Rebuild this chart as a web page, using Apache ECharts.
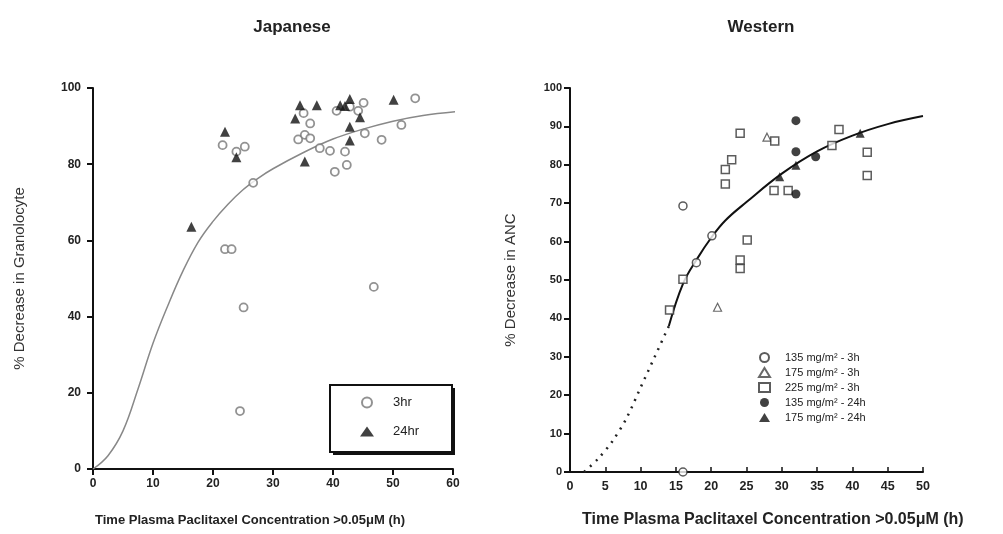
<!DOCTYPE html>
<html><head><meta charset="utf-8">
<script src="https://cdn.jsdelivr.net/npm/echarts@6/dist/echarts.min.js"></script>
<style>html,body{margin:0;padding:0;background:#fff}#c{width:1003px;height:534px}</style>
</head><body><div id="c"></div>
<script>
// ---- Japanese panel data ----
const jpXTicks = [0, 10, 20, 30, 40, 50, 60];
const jpYTicks = [0, 20, 40, 60, 80, 100];
const jp3hr = [[21.6,85],[23.9,83.3],[25.3,84.6],[22,57.7],[23.1,57.7],[25.1,42.4],[24.5,15.2],[26.7,75.1],
  [35.1,93.4],[36.2,90.7],[34.2,86.5],[35.3,87.7],[36.2,86.8],[37.8,84.2],[39.5,83.5],[42,83.3],
  [40.6,94],[42.8,95.1],[45.1,96.1],[44.2,94],[45.3,88.1],[48.1,86.4],[51.4,90.3],[53.7,97.3],
  [42.3,79.8],[40.3,78],[46.8,47.8]];
const jp24hr = [[16.4,63.6],[22,88.5],[23.9,81.8],[34.5,95.5],[37.3,95.5],[33.7,92],[41.2,95.5],
  [42.8,97.1],[42,95.3],[44.5,92.3],[42.8,89.8],[42.8,86.2],[35.3,80.7],[50.1,96.9]];
const jpCurve = [[0,0],[2.5,3.5],[5,10],[7.5,21],[10,33],[12.5,43],[15,52],[17.5,59.5],[20,65],
  [22.5,69.5],[25,73.3],[27.5,76.3],[30,78.8],[35,83],[40,86.6],[45,89.2],[50,91.3],[55,92.8],[60.5,93.8]];

// ---- Western panel data ----
const wXTicks = [0,5,10,15,20,25,30,35,40,45,50];
const wYTicks = [0,10,20,30,40,50,60,70,80,90,100];
const w135_3h = [[16,69.3],[20.1,61.5],[17.9,54.5],[16,0]];
const w175_3h = [[27.9,87.2],[20.9,42.9]];
const w225_3h = [[24.1,88.2],[29,86.2],[22.9,81.3],[22,78.8],[22,75],[28.9,73.3],[30.9,73.3],[37.1,85],
  [38.1,89.2],[42.1,83.3],[42.1,77.2],[16,50.2],[14.1,42.2],[25.1,60.4],[24.1,55.2],[24.1,53]];
const w135_24h = [[32,91.5],[32,83.4],[32,72.4],[34.8,82.1]];
const w175_24h = [[29.7,76.9],[32,79.9],[41.1,88.2]];
const wCurveDotted = [[2,0],[4,3.5],[6,8],[8,14],[10,22],[12,30],[14,38]];
const wCurveSolid = [[14,38],[16,49],[18,55.5],[20,61],[22,65.5],[25,70.3],[30,77.7],[35,83.5],[40,87.6],[45,90.6],[50,92.7]];

const jpLegend = ['3hr', '24hr'];
const wLegend = ['135 mg/m\u00b2 - 3h', '175 mg/m\u00b2 - 3h', '225 mg/m\u00b2 - 3h', '135 mg/m\u00b2 - 24h', '175 mg/m\u00b2 - 24h'];
const xTitle = 'Time Plasma Paclitaxel Concentration >0.05\u03bcM (h)';
const FONT = '"Liberation Sans", Arial, sans-serif';

const chart = echarts.init(document.getElementById('c'));
function axisCommon(min, max, interval) {
  return {
    min, max, interval,
    axisLine: {show: true, onZero: false, lineStyle: {color: '#111', width: 2}},
    axisTick: {show: true, inside: false, length: 6, lineStyle: {color: '#111', width: 2}},
    splitLine: {show: false},
    axisLabel: {color: '#222', fontWeight: 'bold', fontFamily: FONT, fontSize: 12}
  };
}
const option = {
  animation: false,
  backgroundColor: '#fff',
  title: [
    {text: 'Japanese', left: 287, top: 14, textAlign: 'center',
     textStyle: {fontFamily: FONT, fontSize: 17, fontWeight: 'bold', color: '#222'}},
    {text: 'Western', left: 756, top: 14, textAlign: 'center',
     textStyle: {fontFamily: FONT, fontSize: 17, fontWeight: 'bold', color: '#222'}}
  ],
  grid: [
    {left: 93, top: 88, width: 360, height: 381},
    {left: 570, top: 88, width: 353, height: 384}
  ],
  xAxis: [
    Object.assign(axisCommon(0, 60, 10), {gridIndex: 0, type: 'value',
      axisLabel: {color: '#222', fontWeight: 'bold', fontFamily: FONT, fontSize: 12, margin: 9}}),
    Object.assign(axisCommon(0, 50, 5), {gridIndex: 1, type: 'value',
      axisTick: {show: true, inside: true, length: 5, lineStyle: {color: '#111', width: 1.5}},
      axisLabel: {color: '#222', fontWeight: 'bold', fontFamily: FONT, fontSize: 12.5, margin: 8}})
  ],
  yAxis: [
    Object.assign(axisCommon(0, 100, 20), {gridIndex: 0, type: 'value',
      name: '% Decrease in Granolocyte', nameLocation: 'middle', nameGap: 66,
      nameTextStyle: {fontFamily: FONT, fontSize: 15, color: '#333'},
      axisLabel: {color: '#222', fontWeight: 'bold', fontFamily: FONT, fontSize: 12, margin: 12}}),
    Object.assign(axisCommon(0, 100, 10), {gridIndex: 1, type: 'value',
      name: '% Decrease in ANC', nameLocation: 'middle', nameGap: 52,
      nameTextStyle: {fontFamily: FONT, fontSize: 15, color: '#333'},
      axisLabel: {color: '#222', fontWeight: 'bold', fontFamily: FONT, fontSize: 11, margin: 8}})
  ],
  graphic: [
    {type: 'text', left: 95, top: 514, style: {text: xTitle, font: 'bold 13px "Liberation Sans", Arial, sans-serif', fill: '#222'}},
    {type: 'text', left: 582, top: 512, style: {text: xTitle, font: 'bold 16px "Liberation Sans", Arial, sans-serif', fill: '#222'}},
    // legend frame with drop shadow (Japanese panel)
    {type: 'rect', z: 0, shape: {x: 333, y: 388, width: 122, height: 67}, style: {fill: '#111'}},
    {type: 'rect', z: 1, shape: {x: 330, y: 385, width: 122, height: 67}, style: {fill: '#fff', stroke: '#111', lineWidth: 2}}
  ],
  legend: [
    {
      data: jpLegend, orient: 'vertical', left: 360, top: 396, padding: 0, itemGap: 16,
      itemWidth: 14, itemHeight: 10, z: 5,
      textStyle: {fontFamily: FONT, fontSize: 13, color: '#222', padding: [0, 0, 0, 14]}
    },
    {
      data: wLegend, orient: 'vertical', left: 758, top: 352, padding: 0, itemGap: 4, itemWidth: 11, itemHeight: 9,
      textStyle: {fontFamily: FONT, fontSize: 11, color: '#222', padding: [0, 0, 0, 10]}
    }
  ],
  series: [
    {type: 'line', name: 'jpfit', xAxisIndex: 0, yAxisIndex: 0, data: jpCurve, smooth: 0.4, symbol: 'none',
     lineStyle: {color: '#888', width: 1.5}, silent: true, z: 1},
    {type: 'scatter', name: '3hr', xAxisIndex: 0, yAxisIndex: 0, data: jp3hr, symbol: 'circle', symbolSize: 8,
     itemStyle: {color: '#fff', borderColor: '#777', borderWidth: 1.8}, z: 3},
    {type: 'scatter', name: '24hr', xAxisIndex: 0, yAxisIndex: 0, data: jp24hr, symbol: 'triangle', symbolSize: 10,
     itemStyle: {color: '#111', borderColor: '#111', borderWidth: 0}, z: 4},

    {type: 'line', name: 'wdot', xAxisIndex: 1, yAxisIndex: 1, data: wCurveDotted, smooth: 0.3, symbol: 'none',
     lineStyle: {color: '#222', width: 2.5, type: [2, 6]}, silent: true, z: 1},
    {type: 'line', name: 'wfit', xAxisIndex: 1, yAxisIndex: 1, data: wCurveSolid, smooth: 0.4, symbol: 'none',
     lineStyle: {color: '#111', width: 2}, silent: true, z: 1},
    {type: 'scatter', name: wLegend[0], xAxisIndex: 1, yAxisIndex: 1, data: w135_3h, symbol: 'circle', symbolSize: 8,
     itemStyle: {color: '#fff', borderColor: '#333', borderWidth: 1.5}, z: 3},
    {type: 'scatter', name: wLegend[1], xAxisIndex: 1, yAxisIndex: 1, data: w175_3h, symbol: 'triangle', symbolSize: 8,
     itemStyle: {color: '#fff', borderColor: '#444', borderWidth: 1.2}, z: 3},
    {type: 'scatter', name: wLegend[2], xAxisIndex: 1, yAxisIndex: 1, data: w225_3h, symbol: 'rect', symbolSize: 8,
     itemStyle: {color: '#fff', borderColor: '#333', borderWidth: 1.5}, z: 3},
    {type: 'scatter', name: wLegend[3], xAxisIndex: 1, yAxisIndex: 1, data: w135_24h, symbol: 'circle', symbolSize: 9,
     itemStyle: {color: '#111'}, z: 4},
    {type: 'scatter', name: wLegend[4], xAxisIndex: 1, yAxisIndex: 1, data: w175_24h, symbol: 'triangle', symbolSize: 9,
     itemStyle: {color: '#111'}, z: 4}
  ]
};
chart.setOption(option);
</script>
</body></html>
